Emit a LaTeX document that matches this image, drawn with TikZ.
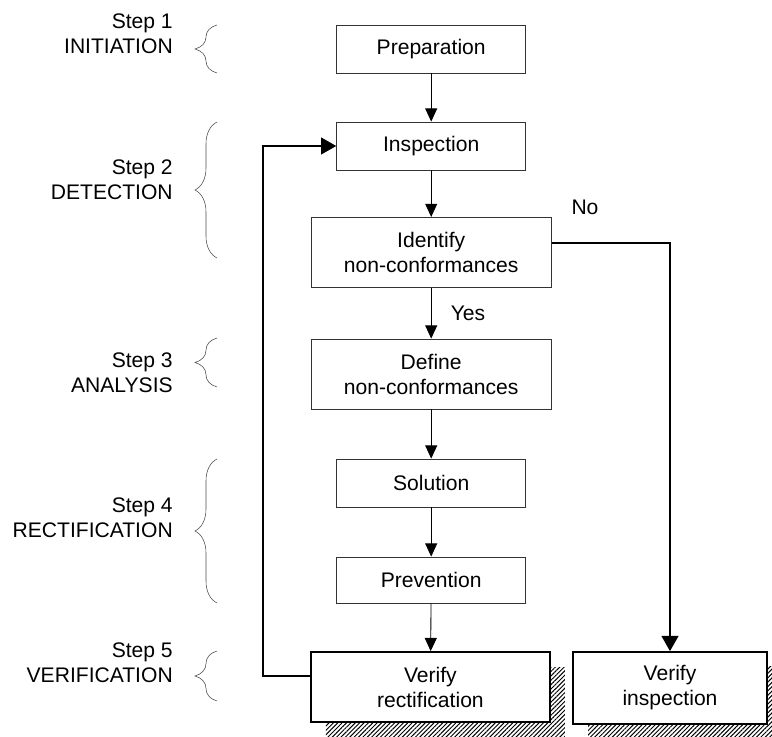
\documentclass[tikz,border=0pt]{standalone}
\usepackage{fontspec}
\setmainfont{Liberation Sans}
\usetikzlibrary{arrows.meta,decorations.pathreplacing,shadows,patterns.meta}

\begin{document}
\begin{tikzpicture}[>={Triangle[length=0.33cm,width=0.3cm]},
        font=\fontsize{15}{17.8}\selectfont,
        box/.style={draw=black!80, line width=0.6pt, align=center,
            minimum width=4.725cm, minimum height=1.2cm},
        widebox/.style={box, minimum width=6cm, minimum height=1.75cm},
        endbox/.style={draw, line width=1.2pt, fill=white, align=center,
            minimum height=1.75cm,
            general shadow={shadow xshift=0.375cm, shadow yshift=-0.375cm,
                pattern={Lines[angle=45,distance=2.2pt,line width=0.7pt]}}},
        steplabel/.style={anchor=east, align=right, inner sep=0pt},
        stepbrace/.style={draw=black!70, thin, decorate,
            decoration={brace, amplitude=0.55cm}},
        flowarrow/.style={->, line width=0.6pt},
        backline/.style={->, line width=1.2pt,
            >={Triangle[length=0.38cm,width=0.42cm]}}]
    \useasboundingbox (0,0) rectangle (19.3,-18.425);

    % ==== STEPS ====
    \node[steplabel] (s1) at (4.325,-0.85) {Step 1\\INITIATION};
    \node[steplabel] (s2) at (4.325,-4.5) {Step 2\\DETECTION};
    \node[steplabel] (s3) at (4.325,-9.31) {Step 3\\ANALYSIS};
    \node[steplabel] (s4) at (4.325,-12.95) {Step 4\\RECTIFICATION};
    \node[steplabel] (s5) at (4.325,-16.56) {Step 5\\VERIFICATION};
    \draw[stepbrace] (5.425,-1.825) -- (5.425,-0.625);
    \draw[stepbrace] (5.425,-6.45) -- (5.425,-3.05);
    \draw[stepbrace] (5.425,-9.675) -- (5.425,-8.45);
    \draw[stepbrace] (5.425,-15.075) -- (5.425,-11.475);
    \draw[stepbrace] (5.425,-17.525) -- (5.425,-16.275);

    % ==== MAIN COLUMN ====
    \node[box] (prep) at (10.78,-1.225) {Preparation};
    \node[box] (insp) at (10.78,-3.65) {Inspection};
    \node[widebox] (ident) at (10.78,-6.31) {Identify\\non-conformances};
    \node[widebox] (defn) at (10.78,-9.35) {Define\\non-conformances};
    \node[box] (sol) at (10.78,-12.075) {Solution};
    \node[box, minimum height=1.15cm] (prev) at (10.78,-14.5) {Prevention};
    \node[endbox, minimum width=5.975cm] (verrect) at (10.76,-17.175)
        {Verify\\rectification};
    \node[endbox, minimum width=4.85cm, minimum height=1.8cm] (verinsp)
        at (16.75,-17.2) {Verify\\inspection};

    \draw[flowarrow] (prep) -- (insp);
    \draw[flowarrow] (insp) -- (ident);
    \draw[flowarrow] (ident) -- (defn);
    \draw[flowarrow] (defn) -- (sol);
    \draw[flowarrow] (sol) -- (prev);
    \draw[flowarrow] (prev) -- (verrect);

    \node (yes) at (11.7,-7.825) {Yes};
    \node (no) at (14.625,-5.175) {No};

    % ==== No branch and loop back ====
    \draw[backline] ([yshift=0.24cm]ident.east) -| (verinsp.north);
    \coordinate (back) at (6.575,-16.9);
    \draw[backline] (verrect.west |- back) -- (back) |- (insp.west);
\end{tikzpicture}
\end{document}
